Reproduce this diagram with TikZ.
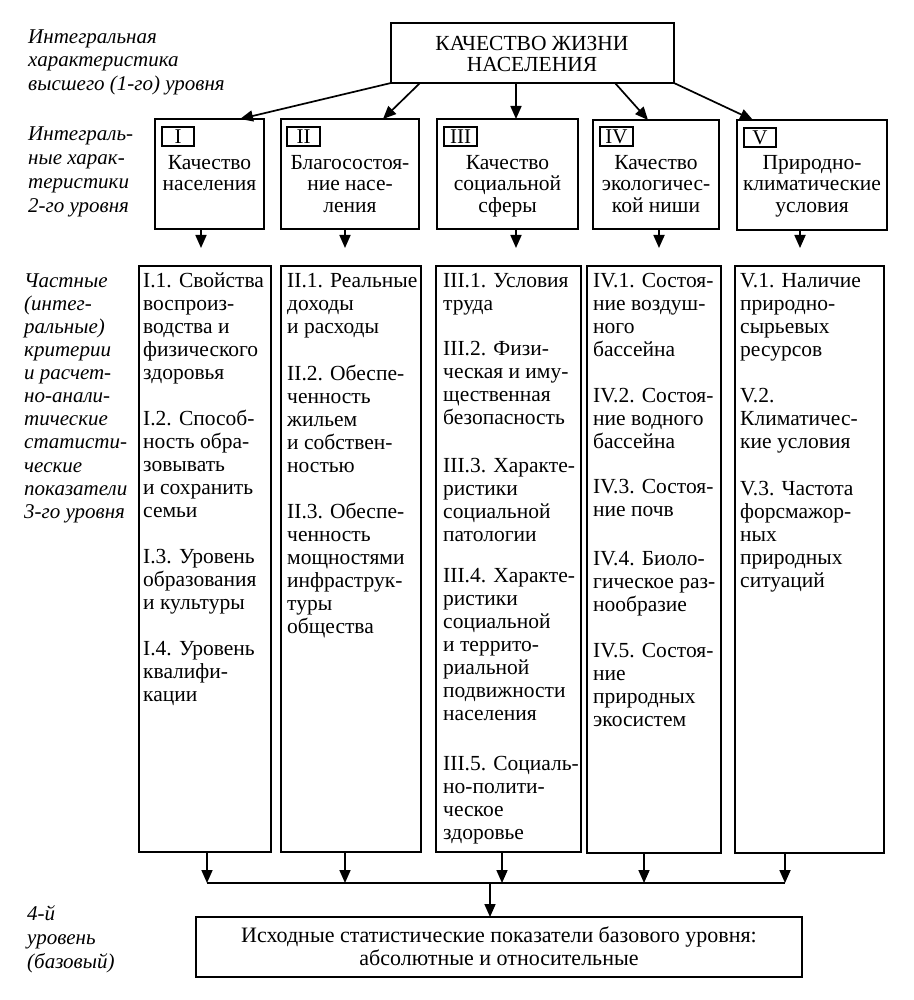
\documentclass[tikz,border=0pt]{standalone}
\usepackage{fontspec}
\setmainfont{Liberation Serif}
\usetikzlibrary{arrows.meta}
\newcommand\fsA{\rule{0pt}{21pt}}
\newcommand\fsB{\rule{0pt}{20pt}}
\begin{document}
\begin{tikzpicture}[x=1pt,y=-1pt,
  frame/.style={draw, line width=1.7pt, inner sep=0pt, outer sep=0pt, anchor=north west},
  numbox/.style={draw, line width=1.5pt, inner sep=0pt, outer sep=0pt, anchor=north west, font=\fontsize{21}{21}\selectfont},
  arr/.style={line width=1.7pt, -{Triangle[length=13pt,width=11pt]}},
  plain/.style={line width=1.7pt},
  itemtxt/.style={font=\fontsize{21.5}{23}\selectfont, inner sep=0pt, anchor=north west, align=left},
  headtxt/.style={font=\fontsize{21.5}{21.5}\selectfont, inner sep=0pt, anchor=north, align=center},
  sidelbl/.style={font=\fontsize{21}{23.5}\selectfont\itshape, inner sep=0pt, anchor=north west, align=left}]
\useasboundingbox (0,0) rectangle (913,1000);

% top box
\node[frame, minimum width=283pt, minimum height=60pt] (top) at (391,23) {};
\node[headtxt] (toptxt) at (532,29) {\fsA КАЧЕСТВО ЖИЗНИ\\НАСЕЛЕНИЯ};

% level 2 boxes
\node[frame, minimum width=109pt, minimum height=110pt] (b1) at (155,119) {};
\node[frame, minimum width=138pt, minimum height=110pt] (b2) at (281,119) {};
\node[frame, minimum width=141pt, minimum height=110pt] (b3) at (437,119) {};
\node[frame, minimum width=126pt, minimum height=109pt] (b4) at (593,120) {};
\node[frame, minimum width=150pt, minimum height=110pt] (b5) at (737,120) {};

\node[numbox, minimum width=32pt, minimum height=19pt] (n1) at (162,127) {I};
\node[numbox, minimum width=33pt, minimum height=19pt] (n2) at (287,127) {II};
\node[numbox, minimum width=33pt, minimum height=19pt] (n3) at (444,127) {III};
\node[numbox, minimum width=33pt, minimum height=19pt] (n4) at (600,127) {IV};
\node[numbox, minimum width=32pt, minimum height=19pt] (n5) at (744,128) {V};

\node[headtxt] (h1) at (209.5,148) {\fsA Качество\\населения};
\node[headtxt] (h2) at (350,148) {\fsA Благосостоя-\\ние насе-\\ления};
\node[headtxt] (h3) at (507.5,148) {\fsA Качество\\социальной\\сферы};
\node[headtxt] (h4) at (656,148) {\fsA Качество\\экологичес-\\кой ниши};
\node[headtxt] (h5) at (812,148) {\fsA Природно-\\климатические\\условия};

% arrows from top
\draw[arr] (top.south west) -- ([xshift=85pt]b1.north west);
\draw[arr] ([xshift=29pt]top.south west) -- ([xshift=102pt]b2.north west);
\draw[arr] ([xshift=125pt]top.south west) -- ([xshift=79pt]b3.north west);
\draw[arr] ([xshift=224pt]top.south west) -- ([xshift=55pt]b4.north west);
\draw[arr] (top.south east) -- ([xshift=16pt]b5.north west);

% level 3 boxes
\node[frame, minimum width=132pt, minimum height=586pt] (l1) at (139,266) {};
\node[frame, minimum width=140pt, minimum height=586pt] (l2) at (281,266) {};
\node[frame, line width=2.4pt, minimum width=145pt, minimum height=586pt] (l3) at (436,266) {};
\node[frame, minimum width=134pt, minimum height=587pt] (l4) at (587,266) {};
\node[frame, minimum width=149pt, minimum height=587pt] (l5) at (735,266) {};

% arrows level 2 -> 3
\coordinate (c1) at (201,248);
\coordinate (c2) at (345,248);
\coordinate (c3) at (516,248);
\coordinate (c4) at (659,248);
\coordinate (c5) at (800,248);
\draw[arr] (c1 |- b1.south) -- (c1);
\draw[arr] (c2 |- b2.south) -- (c2);
\draw[arr] (c3 |- b3.south) -- (c3);
\draw[arr] (c4 |- b4.south) -- (c4);
\draw[arr] (c5 |- b5.south) -- (c5);

% box I items
\node[itemtxt] (i1) at (143,266) {\fsA I.1. Свойства\\воспроиз-\\водства и\\физического\\здоровья};
\node[itemtxt] (i2) at (143,404) {\fsA I.2. Способ-\\ность обра-\\зовывать\\и сохранить\\семьи};
\node[itemtxt] (i3) at (143,542) {\fsA I.3. Уровень\\образования\\и культуры};
\node[itemtxt] (i4) at (143,634) {\fsA I.4. Уровень\\квалифи-\\кации};

% box II items
\node[itemtxt] (ii1) at (287,266) {\fsA II.1. Реальные\\доходы\\и расходы};
\node[itemtxt] (ii2) at (287,359) {\fsA II.2. Обеспе-\\ченность\\жильем\\и собствен-\\ностью};
\node[itemtxt] (ii3) at (287,497) {\fsA II.3. Обеспе-\\ченность\\мощностями\\инфраструк-\\туры\\общества};

% box III items
\node[itemtxt] (iii1) at (443,266) {\fsA III.1. Условия\\труда};
\node[itemtxt] (iii2) at (443,334) {\fsA III.2. Физи-\\ческая и иму-\\щественная\\безопасность};
\node[itemtxt] (iii3) at (443,451) {\fsA III.3. Характе-\\ристики\\социальной\\патологии};
\node[itemtxt] (iii4) at (443,561) {\fsA III.4. Характе-\\ристики\\социальной\\и террито-\\риальной\\подвижности\\населения};
\node[itemtxt] (iii5) at (443,749) {\fsA III.5. Социаль-\\но-полити-\\ческое\\здоровье};

% box IV items
\node[itemtxt] (iv1) at (593,266) {\fsA IV.1. Состоя-\\ние воздуш-\\ного\\бассейна};
\node[itemtxt] (iv2) at (593,381) {\fsA IV.2. Состоя-\\ние водного\\бассейна};
\node[itemtxt] (iv3) at (593,472) {\fsA IV.3. Состоя-\\ние почв};
\node[itemtxt] (iv4) at (593,544) {\fsA IV.4. Биоло-\\гическое раз-\\нообразие};
\node[itemtxt] (iv5) at (593,636) {\fsA IV.5. Состоя-\\ние\\природных\\экосистем};

% box V items
\node[itemtxt] (v1) at (740,266) {\fsA V.1. Наличие\\природно-\\сырьевых\\ресурсов};
\node[itemtxt] (v2) at (740,381) {\fsA V.2.\\Климатичес-\\кие условия};
\node[itemtxt] (v3) at (740,474) {\fsA V.3. Частота\\форсмажор-\\ных\\природных\\ситуаций};

% arrows level 3 -> bus
\coordinate (d1) at (207,883);
\coordinate (d2) at (345,883);
\coordinate (d3) at (502,883);
\coordinate (d4) at (644,883);
\coordinate (d5) at (785,883);
\draw[arr] (d1 |- l1.south) -- (d1);
\draw[arr] (d2 |- l2.south) -- (d2);
\draw[arr] (d3 |- l3.south) -- (d3);
\draw[arr] (d4 |- l4.south) -- (d4);
\draw[arr] (d5 |- l5.south) -- (d5);
\draw[plain] (d1) -- (d5);

% bottom box
\node[frame, minimum width=606pt, minimum height=60pt] (bot) at (196,917) {};
\node[headtxt, font=\fontsize{22}{23}\selectfont] (bottxt) at (499,921) {\fsA Исходные статистические показатели базового уровня:\\абсолютные и относительные};
\coordinate (e) at (490,883);
\draw[arr] (e) -- (e |- bot.north);

% side labels
\node[sidelbl] (s1) at (28,23) {\fsB Интегральная\\характеристика\\высшего (1-го) уровня};
\node[sidelbl, font=\fontsize{21}{24}\selectfont\itshape] (s2) at (28,120) {\fsB Интеграль-\\ные харак-\\теристики\\2-го уровня};
\node[sidelbl, font=\fontsize{21}{23.1}\selectfont\itshape] (s3) at (24,267) {\fsB Частные\\(интег-\\ральные)\\критерии\\и расчет-\\но-анали-\\тические\\статисти-\\ческие\\показатели\\3-го уровня};
\node[sidelbl, font=\fontsize{21}{24}\selectfont\itshape] (s4) at (27,900) {\fsB 4-й\\уровень\\(базовый)};
\end{tikzpicture}
\end{document}
